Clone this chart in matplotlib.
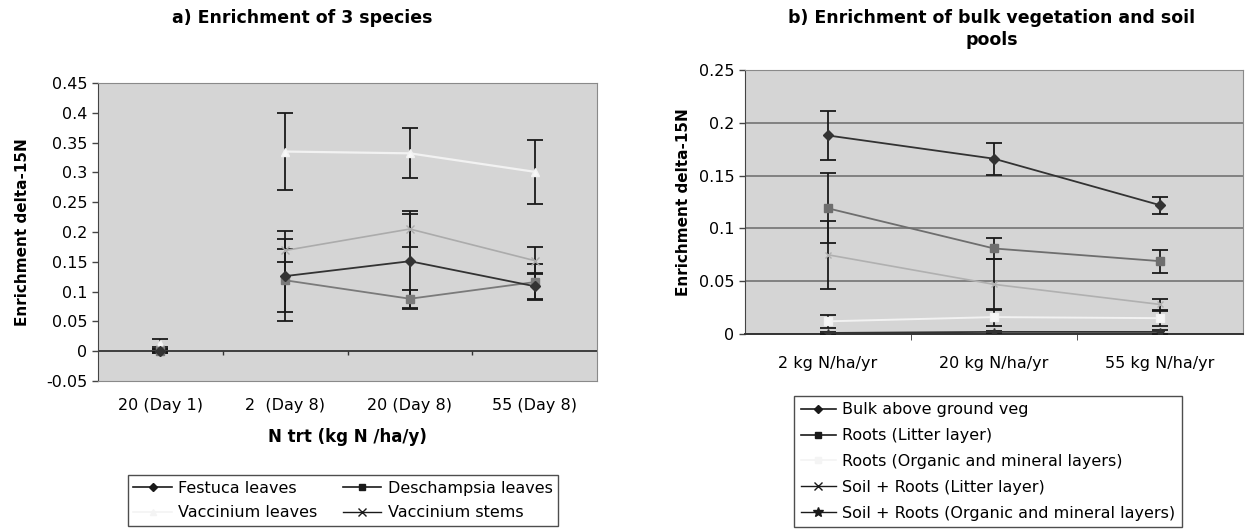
import numpy as np
import matplotlib
matplotlib.use("Agg")
import matplotlib.pyplot as plt
from matplotlib.lines import Line2D
from matplotlib.ticker import FuncFormatter, MultipleLocator, FixedLocator

plt.rcParams['font.family'] = ['DejaVu Sans']

# ---------------- data: panel a ----------------
cats_a = ["20 (Day 1)", "2  (Day 8)", "20 (Day 8)", "55 (Day 8)"]
festuca = [0.000, 0.126, 0.151, 0.109]
festuca_err = [0.003, 0.075, 0.080, 0.022]
deschampsia = [0.000, 0.119, 0.088, 0.116]
deschampsia_err = [0.003, 0.053, 0.015, 0.030]
vacc_leaves = [0.012, 0.335, 0.332, 0.301]
vacc_leaves_err = [0.008, 0.065, 0.042, 0.054]
vacc_stems = [0.003, 0.169, 0.205, 0.152]
vacc_stems_err = [0.004, 0.020, 0.030, 0.023]
labels_a = ["Festuca leaves", "Vaccinium leaves", "Deschampsia leaves", "Vaccinium stems"]

# ---------------- data: panel b ----------------
cats_b = ["2 kg N/ha/yr", "20 kg N/ha/yr", "55 kg N/ha/yr"]
bulk = [0.188, 0.166, 0.122]
bulk_err = [0.023, 0.015, 0.008]
roots_litter = [0.119, 0.081, 0.069]
roots_litter_err = [0.033, 0.010, 0.011]
roots_org = [0.012, 0.016, 0.015]
roots_org_err = [0.006, 0.008, 0.007]
soil_litter = [0.075, 0.047, 0.028]
soil_litter_err = [0.032, 0.024, 0.005]
soil_org = [0.001, 0.002, 0.002]
soil_org_err = [0.001, 0.001, 0.002]
labels_b = ["Bulk above ground veg", "Roots (Litter layer)",
            "Roots (Organic and mineral layers)", "Soil + Roots (Litter layer)",
            "Soil + Roots (Organic and mineral layers)"]

W, H = 1248, 531
fig = plt.figure(figsize=(W / 100, H / 100), dpi=100)
fig.patch.set_facecolor("white")

BG = "#d5d5d5"
FS = 11.5


def fmt(v, _):
    return "%g" % round(v, 3)


def style_axes(ax):
    ax.set_facecolor(BG)
    for s in ["top", "right", "bottom"]:
        ax.spines[s].set_color("#8a8a8a")
    ax.spines["left"].set_color("#444444")
    ax.yaxis.set_major_formatter(FuncFormatter(fmt))
    ax.tick_params(axis="y", labelsize=FS, length=4, color="#444444", width=1)


def draw_series(ax, x, y, e, color, marker, ms, mfc, lw, connect_from=0, ls="-"):
    x = np.asarray(x)
    y = np.asarray(y)
    ax.errorbar(x, y, yerr=e, fmt="none", ecolor="#1a1a1a", elinewidth=1.3,
                capsize=5.5, capthick=1.3, zorder=3)
    ax.plot(x[connect_from:], y[connect_from:], color=color, lw=lw, ls=ls, zorder=4)
    ax.plot(x, y, ls="none", marker=marker, ms=ms, mfc=mfc, mec=color, zorder=5)


# ---------------- panel a ----------------
axa = fig.add_axes([98 / W, 1 - 381 / H, 499 / W, 298 / H])
style_axes(axa)
xa = np.arange(len(cats_a))
axa.set_xlim(-0.5, len(cats_a) - 0.5)
axa.set_ylim(-0.05, 0.45)
axa.yaxis.set_major_locator(MultipleLocator(0.05))
axa.axhline(0, color="#333333", lw=1.3, zorder=2)
axa.vlines(xa[:-1] + 0.5, -0.006, 0, color="#333333", lw=1, zorder=2)
axa.set_xticks(xa)
axa.set_xticklabels(cats_a)
axa.tick_params(axis="x", length=0, pad=12, labelsize=FS)

draw_series(axa, xa, vacc_leaves, vacc_leaves_err, "#f2f2f2", "^", 6, "#f8f8f8", 1.6, 1)
draw_series(axa, xa, vacc_stems, vacc_stems_err, "#ababab", "x", 6, "#ababab", 1.2, 1)
draw_series(axa, xa, deschampsia, deschampsia_err, "#7a7a7a", "s", 6, "#7a7a7a", 1.3, 1)
draw_series(axa, xa, festuca, festuca_err, "#333333", "D", 5, "#333333", 1.3, 1)

axa.set_ylabel("Enrichment delta-15N", fontsize=11, fontweight="bold", labelpad=12)
axa.set_xlabel("N trt (kg N /ha/y)", fontsize=12, fontweight="bold", labelpad=11)
fig.text(302 / W, 1 - 18 / H, "a) Enrichment of 3 species", ha="center", va="center",
         fontsize=12.5, fontweight="bold")

handles_a = [
    Line2D([], [], color="#1a1a1a", marker="D", ms=4.5, lw=1.2),
    Line2D([], [], color="#f4f4f4", marker="^", ms=5, lw=1.2),
    Line2D([], [], color="#1a1a1a", marker="s", ms=5, lw=1.2),
    Line2D([], [], color="#1a1a1a", marker="x", ms=6, lw=1.0),
]
lega = fig.legend(handles_a, labels_a, ncol=2, loc="center",
                  bbox_to_anchor=(343 / W, 1 - 500.5 / H), fontsize=FS,
                  frameon=True, fancybox=False, edgecolor="#222222",
                  handlelength=2.4, handletextpad=0.4, columnspacing=1.6,
                  labelspacing=0.62, borderpad=0.35)
lega.get_frame().set_linewidth(1.0)

# ---------------- panel b ----------------
axb = fig.add_axes([745 / W, 1 - 334 / H, 498 / W, 264 / H])
style_axes(axb)
xb = np.arange(len(cats_b))
axb.set_xlim(-0.5, len(cats_b) - 0.5)
axb.set_ylim(0, 0.25)
axb.yaxis.set_major_locator(MultipleLocator(0.05))
axb.set_axisbelow(True)
axb.grid(axis="y", color="#6a6a6a", lw=1.1)
axb.spines["bottom"].set_color("#333333")
axb.spines["bottom"].set_linewidth(1.4)
axb.set_xticks(xb)
axb.set_xticklabels(cats_b)
axb.xaxis.set_minor_locator(FixedLocator(xb[:-1] + 0.5))
axb.tick_params(axis="x", which="major", length=0, pad=16, labelsize=FS)
axb.tick_params(axis="x", which="minor", length=4, color="#333333")

draw_series(axb, xb, roots_org, roots_org_err, "#f2f2f2", "s", 6, "#f6f6f6", 1.4)
draw_series(axb, xb, soil_litter, soil_litter_err, "#b0b0b0", "x", 5, "#b0b0b0", 1.2)
draw_series(axb, xb, soil_org, soil_org_err, "#333333", "*", 6, "#333333", 1.3)
draw_series(axb, xb, roots_litter, roots_litter_err, "#6e6e6e", "s", 6, "#6e6e6e", 1.3)
draw_series(axb, xb, bulk, bulk_err, "#333333", "D", 5, "#333333", 1.3)

axb.set_ylabel("Enrichment delta-15N", fontsize=11, fontweight="bold", labelpad=6)
fig.text(992 / W, 1 - 29 / H, "b) Enrichment of bulk vegetation and soil\npools",
         ha="center", va="center", fontsize=12.5, fontweight="bold", linespacing=1.35)

handles_b = [
    Line2D([], [], color="#1a1a1a", marker="D", ms=4.5, lw=1.2),
    Line2D([], [], color="#1a1a1a", marker="s", ms=5, lw=1.2),
    Line2D([], [], color="#f4f4f4", marker="s", ms=5, lw=1.2),
    Line2D([], [], color="#1a1a1a", marker="x", ms=6, lw=1.0),
    Line2D([], [], color="#1a1a1a", marker="*", ms=7, lw=1.0),
]
legb = fig.legend(handles_b, labels_b, ncol=1, loc="center",
                  bbox_to_anchor=(988 / W, 1 - 461.5 / H), fontsize=FS,
                  frameon=True, fancybox=False, edgecolor="#222222",
                  handlelength=2.2, handletextpad=0.4,
                  labelspacing=0.68, borderpad=0.4)
legb.get_frame().set_linewidth(1.0)

fig.savefig("out.png", dpi=100, facecolor="white")
